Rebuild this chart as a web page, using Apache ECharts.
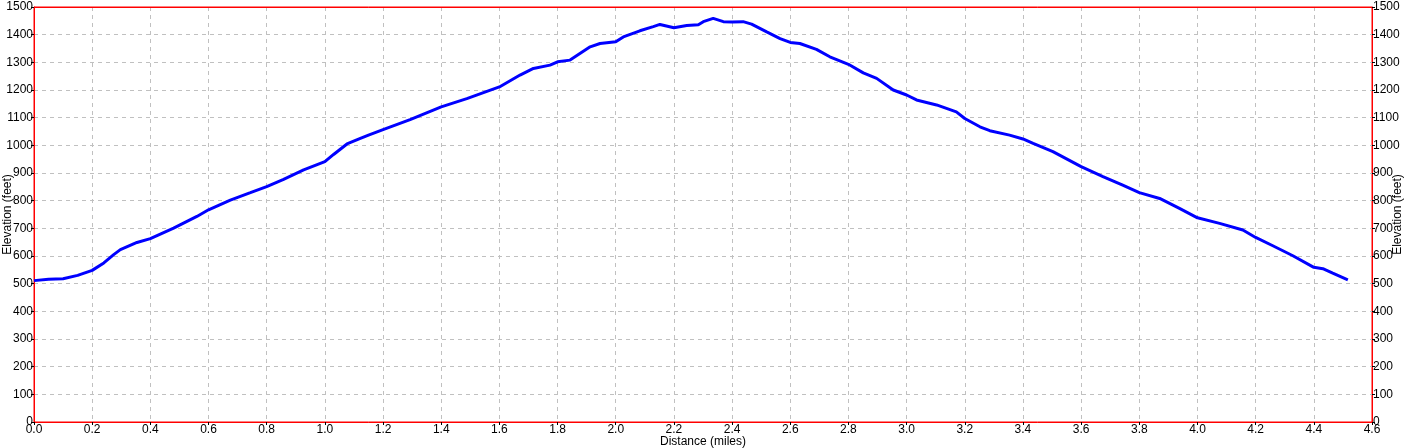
<!DOCTYPE html>
<html>
<head>
<meta charset="utf-8">
<script src="https://cdn.jsdelivr.net/npm/echarts@6/dist/echarts.min.js"></script>
<style>
html,body{margin:0;padding:0;background:#fff;}
#mychart{width:1406px;height:448px;}
</style>
</head>
<body>
<div id="mychart"></div>
<script>
// distance along trail (miles)
var distance = [0.00, 0.05, 0.10, 0.15, 0.20, 0.24, 0.274, 0.297, 0.354, 0.40, 0.48, 0.56, 0.60, 0.675, 0.744, 0.80, 0.858, 0.927, 1.00, 1.03, 1.076, 1.122, 1.15, 1.20, 1.293, 1.40, 1.488, 1.60, 1.671, 1.717, 1.774, 1.80, 1.843, 1.912, 1.946, 2.00, 2.026, 2.083, 2.129, 2.152, 2.20, 2.244, 2.284, 2.301, 2.335, 2.37, 2.40, 2.438, 2.467, 2.519, 2.565, 2.60, 2.633, 2.69, 2.736, 2.80, 2.851, 2.897, 2.954, 3.00, 3.034, 3.103, 3.171, 3.20, 3.252, 3.286, 3.354, 3.40, 3.435, 3.503, 3.60, 3.675, 3.743, 3.80, 3.87, 3.938, 4.00, 4.076, 4.156, 4.20, 4.259, 4.328, 4.40, 4.431, 4.465, 4.517];
// elevation (feet)
var elevation = [511, 516, 518, 530, 548, 575, 605, 623, 649, 663, 701, 743, 767, 802, 829, 851, 877, 911, 941, 967, 1005, 1025, 1037, 1057, 1093, 1139, 1169, 1211, 1254, 1278, 1290, 1302, 1308, 1356, 1368, 1374, 1392, 1414, 1429, 1437, 1425, 1433, 1436, 1447, 1459, 1447, 1446, 1447, 1438, 1410, 1386, 1372, 1368, 1347, 1320, 1293, 1262, 1242, 1200, 1182, 1164, 1146, 1121, 1097, 1067, 1053, 1037, 1023, 1007, 977, 923, 887, 856, 829, 808, 772, 738, 718, 694, 667, 637, 601, 559, 554, 538, 514];

var xTicks = {min: 0, max: 4.6, step: 0.2};
var yTicks = {min: 0, max: 1500, step: 100};

var myChart = echarts.init(document.getElementById('mychart'));
var font = 'Liberation Sans, Arial, sans-serif';

var points = [];
for (var i = 0; i < distance.length; i++) {
    points.push([distance[i], elevation[i]]);
}

var yAxisBase = function (pos) {
    return {
        type: 'value',
        position: pos,
        min: yTicks.min,
        max: yTicks.max,
        interval: yTicks.step,
        name: 'Elevation (feet)',
        nameLocation: 'middle',
        nameRotate: 90,
        nameGap: 20,
        nameMoveOverlap: false,
        nameTextStyle: {color: '#000', fontSize: 12, fontFamily: font},
        axisLine: {show: true, onZero: false, lineStyle: {color: '#ff0000', width: 1}},
        axisTick: {show: true, length: 3, lineStyle: {color: '#000'}},
        axisLabel: {
            color: '#000', fontSize: 12, fontFamily: font, margin: 1,
            formatter: function (v) { return String(v); }
        },
        splitLine: {
            show: pos === 'left', showMinLine: false, showMaxLine: false,
            lineStyle: {color: '#c0c0c0', type: [4, 4]}
        }
    };
};

var option = {
    animation: false,
    grid: {
        left: 34, right: 34, top: 7, bottom: 26, containLabel: false, outerBoundsMode: 'none',
        show: true, borderColor: '#ff0000', borderWidth: 1, backgroundColor: 'transparent'
    },
    xAxis: [{
        type: 'value',
        position: 'bottom',
        min: xTicks.min,
        max: xTicks.max,
        interval: xTicks.step,
        name: 'Distance (miles)',
        nameLocation: 'middle',
        nameGap: 14,
        nameMoveOverlap: false,
        nameTextStyle: {color: '#000', fontSize: 12, fontFamily: font},
        axisLine: {show: true, onZero: false, lineStyle: {color: '#ff0000', width: 1}},
        axisTick: {show: true, length: 3, lineStyle: {color: '#000'}},
        axisLabel: {
            color: '#000', fontSize: 12, fontFamily: font, margin: 2,
            formatter: function (v) { return v.toFixed(1); }
        },
        splitLine: {
            show: true, showMinLine: false, showMaxLine: false,
            lineStyle: {color: '#c0c0c0', type: [4, 4]}
        }
    }, {
        type: 'value',
        position: 'top',
        min: xTicks.min,
        max: xTicks.max,
        axisLine: {show: true, onZero: false, lineStyle: {color: '#ff0000', width: 1}},
        axisTick: {show: false},
        axisLabel: {show: false},
        splitLine: {show: false}
    }],
    yAxis: [yAxisBase('left'), yAxisBase('right')],
    series: [{
        type: 'line',
        data: points,
        showSymbol: false,
        lineStyle: {color: '#0000ff', width: 3},
        z: 5
    }]
};
myChart.setOption(option, true);
</script>
</body>
</html>
